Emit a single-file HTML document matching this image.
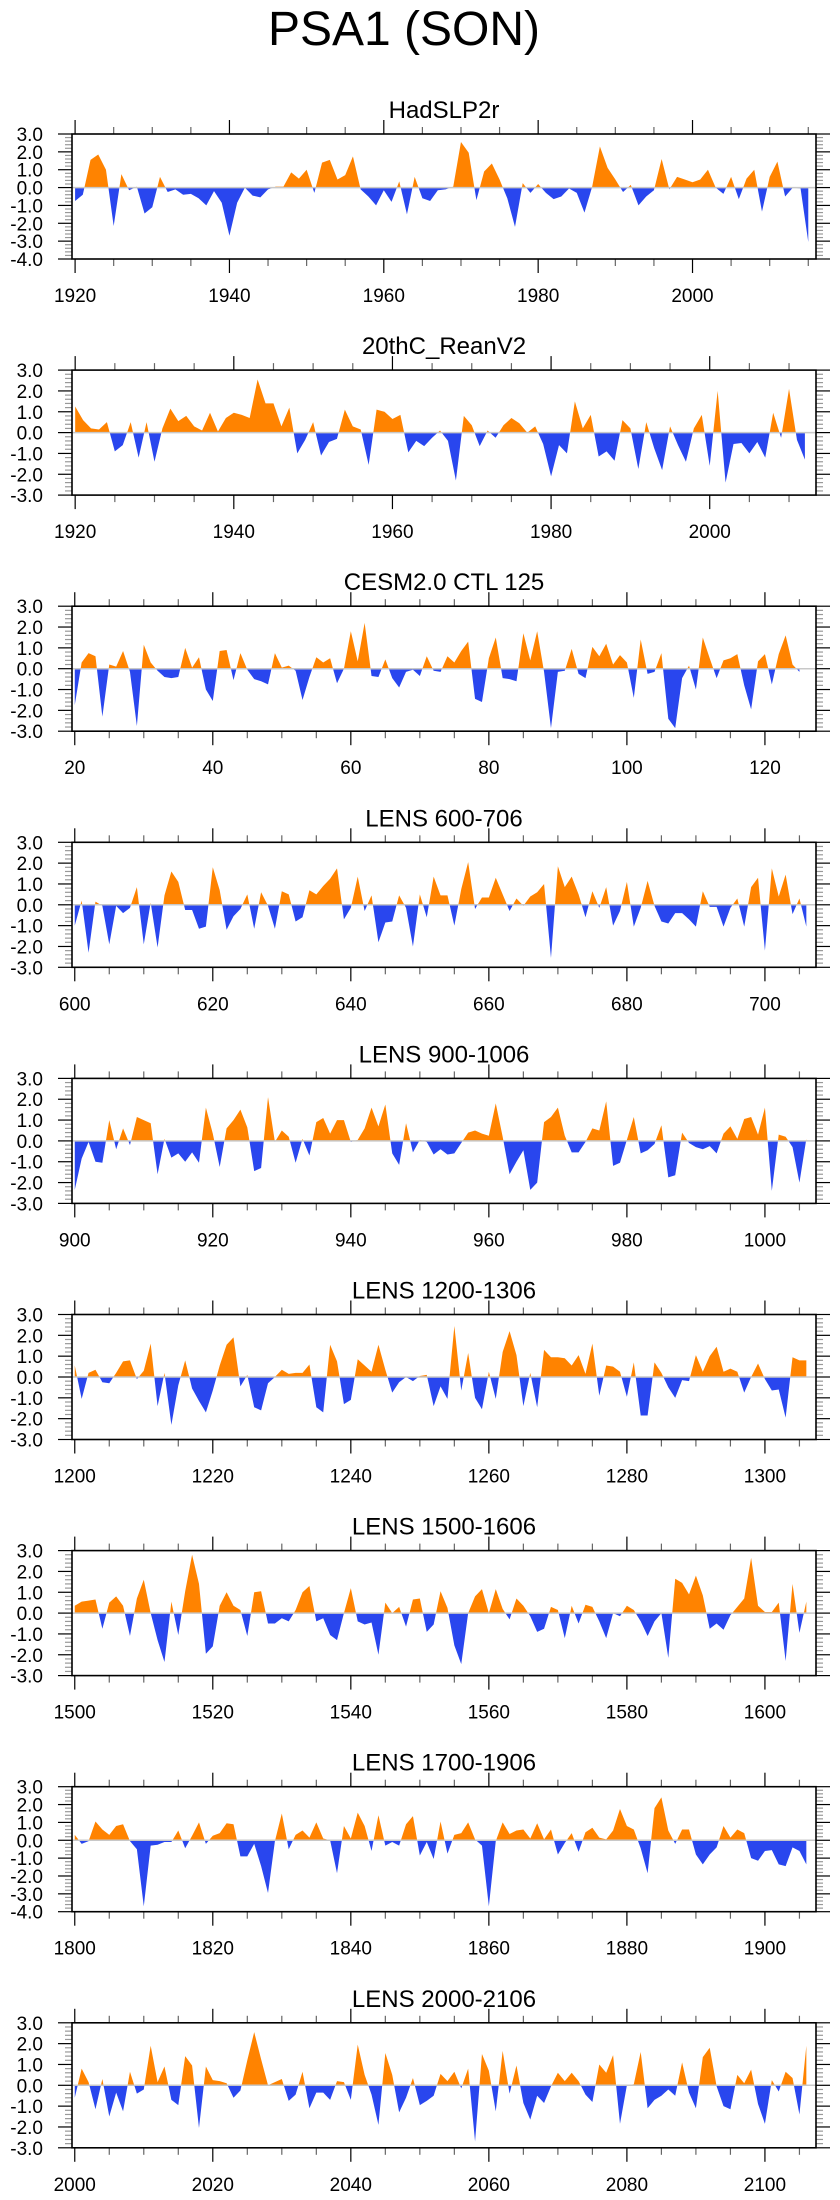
<!DOCTYPE html>
<html><head><meta charset="utf-8"><title>PSA1 (SON)</title>
<style>
html,body{margin:0;padding:0;background:#fff;}
svg{display:block;font-family:"Liberation Sans",Arial,sans-serif;}
</style></head>
<body>
<svg id="chart" width="840" height="2200" viewBox="0 0 840 2200" xmlns="http://www.w3.org/2000/svg">
<text x="404" y="45" font-size="48" text-anchor="middle" fill="#000">PSA1 (SON)</text>
</svg>
<script>
const panelTitles = ["HadSLP2r","20thC_ReanV2","CESM2.0 CTL 125","LENS 600-706","LENS 900-1006","LENS 1200-1306","LENS 1500-1606","LENS 1700-1906","LENS 2000-2106"];
const panelStarts = [1920,1920,20,600,900,1200,1500,1800,2000];
const panelYMin = [-4,-3,-3,-3,-3,-3,-3,-4,-3];
const panelYMax = [3,3,3,3,3,3,3,3,3];
const hadslpValues = [-0.75,-0.4,1.55,1.85,1.0,-2.15,0.75,-0.15,0.05,-1.45,-1.1,0.6,-0.25,-0.1,-0.4,-0.35,-0.6,-1.0,-0.2,-0.85,-2.7,-0.85,0,-0.45,-0.55,-0.1,0.05,0.05,0.85,0.5,1.0,-0.3,1.4,1.55,0.45,0.7,1.75,-0.1,-0.5,-1.0,-0.15,-0.8,0.35,-1.5,0.6,-0.6,-0.75,-0.15,-0.1,0.05,2.55,1.95,-0.7,0.9,1.35,0.45,-0.6,-2.2,0.25,-0.3,0.2,-0.3,-0.65,-0.5,-0.05,-0.3,-1.4,0.05,2.3,1.1,0.45,-0.25,0.15,-1.0,-0.5,-0.15,1.6,-0.1,0.6,0.45,0.3,0.45,1.0,0,-0.35,0.6,-0.65,0.5,1.0,-1.35,0.6,1.45,-0.5,0.0,-0.05,-3.05];
const reanValues = [1.25,0.6,0.2,0.15,0.5,-0.9,-0.6,0.5,-1.2,0.5,-1.4,0.2,1.15,0.55,0.8,0.3,0.1,0.95,0.05,0.7,0.95,0.85,0.7,2.55,1.4,1.4,0.3,1.2,-1.0,-0.35,0.5,-1.1,-0.45,-0.3,1.1,0.3,0.15,-1.55,1.1,1.0,0.65,0.85,-0.95,-0.4,-0.65,-0.25,0.1,-0.4,-2.3,0.8,0.35,-0.65,0.1,-0.25,0.35,0.7,0.45,0,0.3,-0.55,-2.1,-0.6,-1.0,1.5,0.2,0.85,-1.15,-0.9,-1.35,0.6,0.2,-1.75,0.5,-0.75,-1.8,0.3,-0.6,-1.4,0.2,0.85,-1.6,2.0,-2.4,-0.55,-0.5,-1.0,-0.45,-1.2,0.95,-0.25,2.1,-0.35,-1.3];
const cesmValues = [-1.75,0.3,0.75,0.6,-2.3,0.2,0.1,0.85,-0.15,-2.75,1.15,0.3,-0.1,-0.4,-0.45,-0.4,1.0,0.05,0.55,-1.0,-1.55,0.85,0.9,-0.55,0.75,-0.05,-0.5,-0.6,-0.75,0.75,0.05,0.15,-0.1,-1.5,-0.4,0.55,0.3,0.5,-0.7,0,1.8,0.35,2.2,-0.35,-0.4,0.45,-0.45,-0.9,-0.15,-0.05,-0.35,0.6,-0.1,-0.15,0.6,0.3,0.85,1.3,-1.45,-1.6,0.5,1.5,-0.45,-0.5,-0.6,1.7,0.4,1.8,-0.15,-2.85,-0.15,-0.1,0.95,-0.25,-0.45,1.05,0.6,1.2,0.2,0.65,0.3,-1.4,1.4,-0.25,-0.15,0.75,-2.4,-2.85,-0.45,0.15,-1.0,1.5,0.5,-0.45,0.4,0.5,0.7,-0.8,-1.95,0.35,0.7,-0.75,0.7,1.6,0.2,-0.15];
const lens600Values = [-1.0,0.2,-2.3,0.15,-0.05,-1.9,-0.05,-0.4,-0.15,0.85,-1.9,0.1,-2.05,0.45,1.6,1.1,-0.25,-0.25,-1.15,-1.05,1.8,0.7,-1.2,-0.55,-0.2,0.5,-1.15,0.6,-0.05,-1.15,0.65,0.5,-0.8,-0.6,0.7,0.5,0.9,1.25,1.75,-0.7,-0.15,1.35,-0.3,0.45,-1.8,-0.85,-0.8,0.45,-0.15,-2.0,0.5,-0.6,1.35,0.45,0.45,-1.0,0.75,2.05,-0.2,0.35,0.35,1.3,0.5,-0.3,0.3,-0.05,0.4,0.6,1.0,-2.55,1.85,0.85,1.35,0.5,-0.6,0.65,-0.15,0.85,-1.0,-0.3,1.1,-1.05,-0.15,1.15,-0.05,-0.8,-0.9,-0.4,-0.4,-0.7,-1.05,0.65,-0.1,-0.1,-1.05,-0.15,0.3,-1.05,0.85,1.3,-2.2,1.75,0.4,1.45,-0.45,0.3,-1.05];
const lens900Values = [-2.35,-0.85,-0.05,-1.0,-1.05,1.0,-0.4,0.6,-0.2,1.15,1.0,0.85,-1.6,0.1,-0.8,-0.6,-1.0,-0.55,-1.05,1.6,0.35,-1.25,0.6,1.0,1.5,0.65,-1.45,-1.3,2.1,-0.05,0.5,0.2,-1.05,0.1,-0.7,0.9,1.1,0.35,1.0,1.0,-0.05,0.05,0.6,1.6,0.7,1.75,-0.6,-1.15,0.85,-0.55,0.05,-0.05,-0.65,-0.4,-0.65,-0.6,-0.1,0.4,0.5,0.35,0.25,1.8,0.2,-1.6,-1.0,-0.45,-2.35,-2.0,0.9,1.15,1.6,0.25,-0.55,-0.55,-0.05,0.6,0.5,1.9,-1.2,-1.05,0.05,1.15,-0.6,-0.45,-0.15,0.75,-1.75,-1.65,0.4,-0.1,-0.3,-0.4,-0.25,-0.6,0.35,0.7,0.1,1.05,1.15,0.3,1.6,-2.4,0.3,0.2,-0.3,-2.0,0.1];
const lens1200Values = [0.55,-1.05,0.2,0.35,-0.25,-0.3,0.2,0.75,0.8,-0.1,0.3,1.6,-1.4,0.2,-2.3,-0.4,0.8,-0.55,-1.15,-1.7,-0.65,0.55,1.55,1.9,-0.45,0.1,-1.45,-1.6,-0.3,0,0.35,0.15,0.2,0.2,0.6,-1.45,-1.7,1.55,0.75,-1.3,-1.1,0.85,0.55,0.25,1.55,0.35,-0.75,-0.25,0,-0.2,0.05,0.1,-1.4,-0.45,-1.05,2.45,-0.65,1.15,-1.0,-1.55,0.25,-1.05,1.2,2.2,1.05,-1.4,0.2,-1.45,1.3,0.95,0.95,0.9,0.55,1.05,0.15,1.6,-0.9,0.55,0.5,0.25,-0.95,0.7,-1.85,-1.85,0.7,0.2,-0.5,-1.0,-0.15,-0.2,1.05,0.25,1.0,1.45,0.25,0.4,0.25,-0.75,0,0.65,-0.1,-0.65,-0.6,-1.95,0.95,0.8,0.8];
const lens1500Values = [0.35,0.55,0.6,0.65,-0.75,0.5,0.8,0.35,-1.1,0.7,1.6,0,-1.3,-2.35,0.55,-1.05,1.05,2.8,1.4,-1.95,-1.6,0.35,1.0,0.35,0.15,-1.1,1.0,1.05,-0.5,-0.5,-0.25,-0.4,0.15,1.0,1.3,-0.4,-0.25,-1.05,-1.3,0,1.2,-0.4,-0.55,-0.45,-2.0,0.5,0,0.3,-0.65,0.65,0.7,-0.9,-0.55,1.05,0.25,-1.55,-2.45,0,0.8,1.15,0,1.15,0.2,-0.3,0.7,0.35,-0.15,-0.9,-0.75,0.3,0.15,-1.2,0.35,-0.5,0.4,0.3,-0.4,-1.2,0,-0.15,0.35,0.15,-0.4,-1.1,-0.4,0,-2.15,1.65,1.45,0.9,1.8,0.85,-0.75,-0.5,-0.8,-0.1,0.3,0.7,2.65,0.35,0.05,0.05,0.5,-2.3,1.4,-0.95,0.55];
const lens1800Values = [0.3,-0.2,-0.05,1.05,0.6,0.3,0.8,0.9,-0.05,-0.5,-3.7,-0.3,-0.25,-0.1,-0.1,0.55,-0.45,0.25,1.0,-0.2,0.25,0.4,0.95,0.9,-0.9,-0.9,-0.2,-1.45,-2.95,-0.05,1.5,-0.5,0.3,0.55,0.15,1.0,0.1,0,-1.85,0.8,0.1,1.55,0.8,-0.6,1.4,-0.3,-0.1,-0.3,0.9,1.35,-0.85,-0.1,-1.05,1.05,-0.75,0.3,0.4,1.0,0.05,-0.3,-3.7,-0.05,1.0,0.35,0.55,0.6,0.1,0.95,0.05,0.6,-0.8,-0.15,0.4,-0.65,0.45,0.7,0.15,0.05,0.55,1.75,0.8,0.6,-0.45,-1.85,1.8,2.4,0.55,-0.2,0.6,0.6,-0.8,-1.35,-0.8,-0.4,0.8,0.15,0.6,0.4,-1.0,-1.15,-0.6,-0.55,-1.35,-1.45,-0.4,-0.6,-1.35];
const lens2000Values = [-0.6,0.8,0.15,-1.15,0.3,-1.5,-0.35,-1.25,0.65,-0.4,-0.2,1.9,0.15,0.9,-0.7,-0.95,1.4,0.95,-2.05,0.9,0.25,0.2,0.1,-0.6,-0.25,1.2,2.55,1.25,0,0.15,0.3,-0.75,-0.45,0.65,-1.1,-0.35,-0.35,-0.7,0.2,0.15,-0.7,1.95,0.5,-0.45,-1.9,1.55,0.5,-1.3,-0.6,0.35,-0.95,-0.75,-0.5,0.55,0.2,0.65,-0.15,0.8,-2.7,1.5,0.7,-1.25,1.65,-0.4,0.95,-0.85,-1.65,-0.5,-0.85,-0.05,0.6,0.2,0.6,0.2,-0.45,-0.8,1.0,0.6,1.45,-1.85,0,0.05,1.6,-1.1,-0.7,-0.5,-0.2,-0.5,1.1,-0.35,-1.1,1.35,1.8,-0.05,-1.0,-1.15,0.5,0.1,0.75,-0.9,-1.85,0.25,-0.3,0.65,0.35,-1.4,1.9];
const panelValues = [hadslpValues,reanValues,cesmValues,lens600Values,lens900Values,lens1200Values,lens1500Values,lens1800Values,lens2000Values];

const svg = document.getElementById('chart');
const NS = 'http://www.w3.org/2000/svg';
const PL = 72, PR = 816, PH = 125, TOP0 = 134, STEP = 236.1;
const ORANGE = '#ff8300', BLUE = '#2946ee';
function mk(tag, attrs, parent){ const e=document.createElementNS(NS,tag); for(const k in attrs) e.setAttribute(k,attrs[k]); (parent||svg).appendChild(e); return e; }

panelTitles.forEach((title, p) => {
  const vals = panelValues[p];
  const start = panelStarts[p];
  const n = vals.length;
  let xmin, xmax;
  if (p === 0) { xmin = start - 0.4; xmax = start + 96.0; }
  else if (p === 1) { xmin = start - 0.4; xmax = start + 93.4; }
  else { xmin = start - 0.4; xmax = start + 107.4; }
  const ymin = panelYMin[p], ymax = panelYMax[p];
  const top = TOP0 + p * STEP, bot = top + PH;
  const xs = v => PL + (v - xmin) / (xmax - xmin) * (PR - PL);
  const ys = v => top + (ymax - v) / (ymax - ymin) * PH;
  const g = mk('g', {});
  
  

  const t = mk('text', {x: (PL + PR) / 2, y: top - 16, 'font-size': 24, 'text-anchor': 'middle', fill: '#000'}, g);
  
  
  t.textContent = title;

  // fills
  let pos = [[xs(start), ys(0)]], neg = [[xs(start), ys(0)]];
  for (let i = 0; i < n; i++) {
    const x = start + i, v = vals[i];
    if (i > 0) {
      const pv = vals[i - 1];
      if ((pv > 0 && v < 0) || (pv < 0 && v > 0)) {
        const xc = x - 1 + pv / (pv - v);
        pos.push([xs(xc), ys(0)]); neg.push([xs(xc), ys(0)]);
      }
    }
    pos.push([xs(x), ys(Math.max(v, 0))]);
    neg.push([xs(x), ys(Math.min(v, 0))]);
  }
  pos.push([xs(start + n - 1), ys(0)]); neg.push([xs(start + n - 1), ys(0)]);
  const fp = mk('polygon', {points: pos.map(q => q[0].toFixed(2) + ',' + q[1].toFixed(2)).join(' '), fill: ORANGE}, g);
  
  
  const fn = mk('polygon', {points: neg.map(q => q[0].toFixed(2) + ',' + q[1].toFixed(2)).join(' '), fill: BLUE}, g);
  
  

  const zl = mk('line', {x1: PL, x2: PR, y1: ys(0), y2: ys(0), stroke: '#c8c8c8', 'stroke-width': 1.5}, g);
  
  

  // y ticks
  for (let k = Math.round(ymin * 5); k <= Math.round(ymax * 5); k++) {
    const v = k / 5, y = ys(v), major = (k % 5 === 0);
    const len = major ? 14 : 7, col = major ? '#000' : '#999';
    mk('line', {x1: PL - len, x2: PL, y1: y, y2: y, stroke: col, 'stroke-width': 1.2}, g);
    mk('line', {x1: PR, x2: PR + len, y1: y, y2: y, stroke: col, 'stroke-width': 1.2}, g);
    if (major) {
      const yl = mk('text', {x: 43, y: y + 7, 'font-size': 19, 'text-anchor': 'end', fill: '#000'}, g);
      
      
      yl.textContent = v.toFixed(1);
    }
  }
  // x ticks
  for (let x = Math.ceil(xmin / 5) * 5; x <= xmax; x += 5) {
    const major = (x % 20 === 0), len = major ? 14 : 7, X = xs(x);
    mk('line', {x1: X, x2: X, y1: top - len, y2: top, stroke: major ? '#000' : '#666', 'stroke-width': 1.2}, g);
    mk('line', {x1: X, x2: X, y1: bot, y2: bot + len, stroke: major ? '#000' : '#666', 'stroke-width': 1.2}, g);
    if (major) {
      const xl = mk('text', {x: X, y: bot + 43, 'font-size': 19, 'text-anchor': 'middle', fill: '#000'}, g);
      
      
      xl.textContent = String(x);
    }
  }
  const box = mk('rect', {x: PL, y: top, width: PR - PL, height: PH, fill: 'none', stroke: '#000', 'stroke-width': 1.6}, g);
  
  
});
</script>
</body></html>
